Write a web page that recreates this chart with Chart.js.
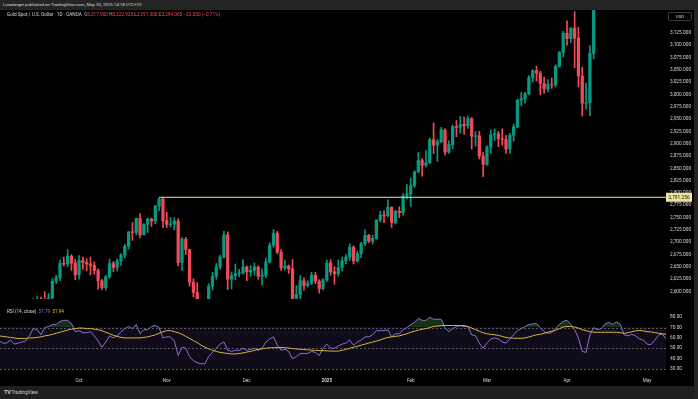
<!DOCTYPE html>
<html><head><meta charset="utf-8">
<script src="https://cdn.jsdelivr.net/npm/chart.js@4.4.1/dist/chart.umd.min.js"></script>
<style>
html,body{margin:0;padding:0;background:#000;width:698px;height:399px;overflow:hidden;font-family:Roboto,"Noto Sans",sans-serif;}
canvas{position:absolute;left:0;}
#pc{top:0;}
#rc{top:306px;}
#hdr{position:absolute;left:0;top:0;width:698px;height:10px;background:#242424;color:#d8d8d8;font-size:4.4px;line-height:10px;padding-left:3px;box-sizing:border-box;white-space:nowrap;}
#leg{position:absolute;left:7px;top:12px;font-size:4.7px;color:#d8d8d8;white-space:nowrap;}
#leg .r{color:#f04b5a;} #leg .g{color:#bbb;}
#rsil{position:absolute;left:7px;top:309px;font-size:4.6px;color:#d8d8d8;white-space:nowrap;}
#usd{position:absolute;left:668px;top:12px;width:24px;height:9px;border:1px solid #3a3a3a;border-radius:2px;box-sizing:border-box;color:#ddd;font-size:4.4px;line-height:7px;text-align:center;}
#ftr{position:absolute;left:0;top:386px;width:698px;height:13px;background:#1f1f1f;color:#cfcfcf;font-size:4.8px;line-height:13px;padding-left:4px;box-sizing:border-box;white-space:nowrap;}
#ftr b{font-size:5.5px;letter-spacing:-0.3px;}
#rstrip{position:absolute;left:694px;top:0;width:4px;height:399px;background:#242424;}
</style></head><body>
<canvas id="pc" width="698" height="306"></canvas>
<canvas id="rc" width="698" height="80"></canvas>
<div id="hdr">Lucatarget published on TradingView.com, May 30, 2025 14:18 UTC+10</div>
<div id="leg">Gold Spot / U.S. Dollar · 1D · OANDA &nbsp;<span class="g">O</span><span class="r">3,317.900</span> <span class="g">H</span><span class="r">3,322.925</span> <span class="g">L</span><span class="r">3,291.300</span> <span class="g">C</span><span class="r">3,294.065</span> <span class="r">−23.550 (−0.71%)</span></div>
<div id="rsil">RSI (14, close) &nbsp;<span style="color:#8f74d6">51.79</span> &nbsp;<span style="color:#e0bd3a">51.94</span></div>
<div id="usd">USD</div>
<div id="ftr"><b>TV</b> TradingView</div>
<div id="rstrip"></div>
<script>
const dates = [
'2024-09-02','2024-09-03','2024-09-04','2024-09-05','2024-09-06','2024-09-09','2024-09-10','2024-09-11','2024-09-12','2024-09-13','2024-09-16','2024-09-17','2024-09-18','2024-09-19','2024-09-20','2024-09-23','2024-09-24','2024-09-25','2024-09-26','2024-09-27','2024-09-30',
'2024-10-01','2024-10-02','2024-10-03','2024-10-04','2024-10-07','2024-10-08','2024-10-09','2024-10-10','2024-10-11','2024-10-14','2024-10-15','2024-10-16','2024-10-17','2024-10-18','2024-10-21','2024-10-22','2024-10-23','2024-10-24','2024-10-25','2024-10-28','2024-10-29','2024-10-30','2024-10-31',
'2024-11-01','2024-11-04','2024-11-05','2024-11-06','2024-11-07','2024-11-08','2024-11-11','2024-11-12','2024-11-13','2024-11-14','2024-11-15','2024-11-18','2024-11-19','2024-11-20','2024-11-21','2024-11-22','2024-11-25','2024-11-26','2024-11-27','2024-11-28','2024-11-29',
'2024-12-02','2024-12-03','2024-12-04','2024-12-05','2024-12-06','2024-12-09','2024-12-10','2024-12-11','2024-12-12','2024-12-13','2024-12-16','2024-12-17','2024-12-18','2024-12-19','2024-12-20','2024-12-23','2024-12-24','2024-12-26','2024-12-27','2024-12-30','2024-12-31',
'2025-01-02','2025-01-03','2025-01-06','2025-01-07','2025-01-08','2025-01-09','2025-01-10','2025-01-13','2025-01-14','2025-01-15','2025-01-16','2025-01-17','2025-01-20','2025-01-21','2025-01-22','2025-01-23','2025-01-24','2025-01-27','2025-01-28','2025-01-29','2025-01-30','2025-01-31',
'2025-02-03','2025-02-04','2025-02-05','2025-02-06','2025-02-07','2025-02-10','2025-02-11','2025-02-12','2025-02-13','2025-02-14','2025-02-17','2025-02-18','2025-02-19','2025-02-20','2025-02-21','2025-02-24','2025-02-25','2025-02-26','2025-02-27','2025-02-28',
'2025-03-03','2025-03-04','2025-03-05','2025-03-06','2025-03-07','2025-03-10','2025-03-11','2025-03-12','2025-03-13','2025-03-14','2025-03-17','2025-03-18','2025-03-19','2025-03-20','2025-03-21','2025-03-24','2025-03-25','2025-03-26','2025-03-27','2025-03-28','2025-03-31',
'2025-04-01','2025-04-02','2025-04-03','2025-04-04','2025-04-07','2025-04-08','2025-04-09','2025-04-10','2025-04-11','2025-04-14','2025-04-15','2025-04-16','2025-04-17','2025-04-21','2025-04-22','2025-04-23','2025-04-24','2025-04-25','2025-04-28','2025-04-29','2025-04-30',
'2025-05-01','2025-05-02','2025-05-05','2025-05-06','2025-05-07','2025-05-08'];

const openP = [2503,2499,2493,2495,2516,2497,2506,2516,2512,2558,2578,2582,2569,2559,2587,2621,2628,2657,2656,2672,2658,
2634,2663,2659,2656,2653,2643,2622,2608,2630,2657,2649,2662,2674,2692,2721,2720,2748,2715,2736,2747,2743,2774,2788,
2744,2736,2737,2743,2659,2706,2685,2619,2598,2572,2565,2563,2611,2631,2650,2670,2715,2625,2632,2636,2638,
2650,2640,2643,2650,2631,2633,2660,2694,2718,2680,2648,2652,2646,2586,2594,2622,2612,2617,2633,2621,2606,
2624,2658,2640,2636,2649,2662,2670,2690,2662,2677,2697,2714,2702,2708,2745,2755,2754,2771,2740,2763,2760,2794,
2798,2815,2843,2866,2856,2861,2908,2897,2904,2928,2883,2898,2935,2933,2939,2936,2951,2915,2916,2875,
2858,2893,2918,2920,2910,2909,2889,2917,2934,2988,2991,3001,3034,3048,3043,3022,3011,3020,3019,3057,3085,
3124,3113,3134,3114,3037,2982,2983,3083,3175,3237,3210,3230,3343,3327,3424,3381,3288,3349,3319,3344,3317,
3288,3239,3240,3334,3431,3366];
const highP = [2506,2504,2503,2523,2529,2507,2518,2529,2560,2586,2590,2589,2600,2596,2626,2633,2664,2670,2685,2675,2665,
2673,2670,2667,2670,2660,2646,2625,2633,2666,2661,2666,2677,2696,2722,2740,2749,2758,2738,2749,2749,2774,2790,2790,
2761,2750,2750,2748,2710,2710,2686,2626,2618,2574,2578,2616,2639,2657,2674,2722,2721,2640,2656,2645,2665,
2652,2653,2658,2652,2646,2668,2699,2726,2722,2685,2664,2654,2665,2612,2632,2628,2622,2639,2639,2624,2626,
2664,2665,2651,2664,2670,2675,2697,2693,2682,2700,2725,2716,2714,2746,2763,2764,2786,2772,2765,2772,2799,2817,
2830,2845,2882,2870,2886,2911,2942,2909,2933,2930,2906,2938,2947,2955,2954,2956,2953,2925,2925,2882,
2896,2928,2930,2925,2930,2917,2921,2940,2990,3004,3004,3038,3050,3057,3047,3035,3030,3033,3060,3087,3128,
3149,3136,3168,3136,3055,3023,3099,3176,3245,3245,3232,3357,3357,3430,3500,3386,3367,3371,3352,3353,3328,
3293,3269,3336,3437,3434,3414];
const lowP = [2490,2472,2484,2489,2485,2491,2500,2500,2507,2552,2571,2565,2546,2554,2585,2616,2622,2652,2651,2643,2624,
2625,2645,2642,2634,2635,2605,2604,2603,2627,2640,2642,2653,2668,2686,2704,2715,2709,2715,2720,2732,2737,2764,2730,
2730,2731,2725,2652,2643,2675,2611,2589,2570,2536,2554,2560,2603,2625,2645,2668,2604,2605,2624,2630,2636,
2622,2631,2633,2625,2613,2628,2658,2690,2677,2643,2644,2637,2582,2583,2584,2603,2609,2614,2616,2597,2603,
2620,2633,2615,2631,2642,2656,2663,2656,2660,2669,2693,2699,2696,2706,2741,2740,2752,2730,2737,2750,2755,2788,
2773,2811,2841,2834,2853,2860,2880,2864,2902,2877,2880,2890,2914,2921,2919,2931,2889,2895,2869,2833,
2856,2880,2906,2894,2897,2880,2880,2905,2932,2977,2982,2999,3025,3027,2999,3002,3005,3012,3015,3055,3076,
3100,3105,3054,3015,2956,2970,2957,3072,3174,3193,3206,3229,3283,3325,3366,3260,3287,3268,3260,3300,3268,
3202,3222,3240,3322,3365,3300];
const closeP = [2499,2493,2495,2516,2497,2506,2516,2512,2558,2578,2582,2569,2559,2587,2621,2628,2657,2656,2672,2658,2634,
2663,2659,2656,2653,2643,2622,2608,2630,2657,2649,2662,2674,2692,2721,2720,2748,2715,2736,2747,2743,2774,2788,2744,
2736,2737,2743,2659,2706,2685,2619,2598,2572,2565,2563,2611,2631,2650,2670,2715,2625,2632,2636,2638,2650,
2640,2643,2650,2631,2633,2660,2694,2718,2680,2648,2652,2646,2586,2594,2622,2612,2617,2633,2621,2606,2624,
2658,2640,2636,2649,2662,2670,2690,2662,2677,2697,2714,2702,2708,2745,2755,2754,2771,2740,2763,2760,2794,2798,
2815,2843,2866,2856,2861,2908,2897,2904,2928,2883,2898,2935,2933,2939,2936,2951,2915,2916,2875,2858,
2893,2918,2920,2910,2909,2889,2917,2934,2988,2991,3001,3034,3048,3043,3022,3011,3020,3019,3057,3085,3124,
3113,3134,3114,3037,2982,2983,3083,3175,3237,3210,3230,3343,3327,3424,3381,3288,3349,3319,3344,3317,3288,
3239,3240,3334,3431,3366,3306];

const rsiValues = [57,55,55,58,54,55,56,57,62,69,68,63,70,71,73,73,76,77,77,74,66,
67,65,65,66,62,57,51,56,62,60,62,66,69,71,69,73,64,68,68,71,72,70,60,
61,61,57,43,51,50,42,38,36,35,35,42,46,50,54,56,48,47,48,48,50,
48,49,50,48,50,56,59,61,53,48,49,47,40,42,45,45,45,47,46,43,50,
54,50,50,52,54,55,58,53,56,58,61,61,63,67,67,67,68,61,64,64,68,70,
73,75,79,77,77,80,78,78,78,70,66,69,71,72,71,71,63,62,55,50,
55,59,60,59,56,55,59,63,67,69,71,73,73.5,74,70,66,64.5,65,69,73,76,
77,73,68,60,47,46,63,70,68,69,73.5,75,73,75.5,73,63,62,63.5,62,59,58,
54,53.5,57.7,62.5,64,59];
const rsiMA = [62,61.5,61,60.5,60,59.5,59.5,59.5,60,60,60.5,61,62,62.5,63.5,64.5,65.5,66.5,67.5,68.5,69,
69.5,69.5,69,69,68.5,68,67,65.5,64,62.5,61.5,60.5,60,60,60,60,60,60.5,61,62,63,64.5,66,
67,67,66,65,63.5,61.5,59.5,57.5,55.5,53,51,49.5,48,47,46,45.5,45,44.5,44.5,45,45.5,
46.3,47,48,49,49.5,50,50.5,50.6,50.8,50.8,50.6,50.2,49.8,49.3,49,48.8,48.5,48.3,48,47.8,47.7,
47.5,47.3,47.2,47.3,48,49,50,51,52,53,54,55,56,57,58,59.5,60.5,61,61.5,62,63,64,
65.5,66.5,67.5,68.5,69,70,71,71.5,72,72,72,72,72,72,72,71,69.5,68,66.5,65,
64,63.5,63,62.5,61.5,60.5,60,59.7,59.7,59.7,60,61,62,63,63.5,64.5,65.5,66.5,67.5,69,70.5,
71,71,70.5,69.5,68,67,66,65.5,65.5,65.5,65.5,65.5,65.5,65.5,65,64.5,65,66,66.8,67.2,66.8,
66.2,65.8,65.2,64.6,64,63.5];

const priceTicks = [2600,2625,2650,2675,2700,2725,2750,2775,2800,2825,2850,2875,2900,2925,2950,2975,3000,3025,3050,3075,3100,3125];
const rsiTicks = [30,40,50,60,70,80];
const monthLabels = ['Oct','Nov','Dec','2025','Feb','Mar','Apr','May'];
const levelPrice = 2791.256;
const levelStart = '2024-10-30';

const UP = '#089981', DOWN = '#f04b5a';
const FONT = 'Roboto, "Noto Sans", sans-serif';
const X_MIN = 0.262, X_MAX = 174.97;
const fmtP = v => Number(v).toLocaleString('en-US',{minimumFractionDigits:3,maximumFractionDigits:3});

const monthPos = [];
for (let i = 1; i < dates.length; i++) if (dates[i].slice(0,7) !== dates[i-1].slice(0,7)) monthPos.push(i);

const candleColors = dates.map((d,i) => closeP[i] >= openP[i] ? UP : DOWN);
const levelIdx = dates.indexOf(levelStart);

const levelLabel = {
  id:'levelLabel',
  afterDraw(chart){
    const ctx = chart.ctx, y = chart.scales.y.getPixelForValue(levelPrice), x = chart.chartArea.right;
    ctx.save();
    ctx.fillStyle = '#efe3a0';
    ctx.fillRect(x, y - 4.5, 26, 9);
    ctx.fillStyle = '#111';
    ctx.font = '4.8px ' + FONT;
    ctx.textBaseline = 'middle';
    ctx.fillText(fmtP(levelPrice), x + 2.5, y + 0.3);
    ctx.restore();
  }
};

new Chart(document.getElementById('pc'), {
  type:'bar',
  data:{datasets:[
    {type:'line', data:[{x:levelIdx,y:levelPrice},{x:dates.length,y:levelPrice}], borderColor:'#efe3a0', borderWidth:1, pointRadius:0, order:0, clip:0},
    {data:dates.map((d,i)=>({x:i,y:[openP[i],closeP[i]]})), backgroundColor:candleColors, barThickness:2.6, grouped:false, order:1, clip:0},
    {data:dates.map((d,i)=>({x:i,y:[lowP[i],highP[i]]})), backgroundColor:candleColors, barThickness:1, grouped:false, order:2, clip:0}
  ]},
  options:{
    responsive:false, animation:false, events:[],
    layout:{padding:{top:10,left:0,right:0,bottom:0}},
    plugins:{legend:{display:false}, tooltip:{enabled:false}},
    scales:{
      x:{type:'linear', min:X_MIN, max:X_MAX, display:false, offset:false},
      y:{position:'right', min:2584.7, max:3171.1,
         afterFit:s=>{s.width=32;},
         afterBuildTicks:s=>{s.ticks = priceTicks.map(v=>({value:v}));},
         grid:{display:false, drawTicks:false}, border:{display:false},
         ticks:{color:'#d4d4d4', font:{size:4.8, family:FONT}, padding:4, autoSkip:false, callback:v=>fmtP(v)}}
    }
  },
  plugins:[levelLabel]
});

const rsiBand = {
  id:'rsiBand',
  beforeDatasetsDraw(chart){
    const ctx = chart.ctx, a = chart.chartArea, y = chart.scales.y;
    ctx.save();
    ctx.fillStyle = 'rgba(126,87,194,0.13)';
    const y70 = y.getPixelForValue(70), y30 = y.getPixelForValue(30);
    ctx.fillRect(a.left, y70, a.right - a.left, y30 - y70);
    ctx.strokeStyle = 'rgba(150,150,160,0.55)';
    ctx.lineWidth = 1;
    ctx.setLineDash([2,2]);
    [70,50,30].forEach(v => {
      const p = Math.round(y.getPixelForValue(v)) + 0.5;
      ctx.beginPath(); ctx.moveTo(a.left, p); ctx.lineTo(a.right, p); ctx.stroke();
    });
    ctx.restore();
  }
};

new Chart(document.getElementById('rc'), {
  type:'line',
  data:{datasets:[
    {data:dates.map((d,i)=>({x:i,y:rsiMA[i]})), borderColor:'#d9b43e', borderWidth:1, pointRadius:0, fill:false, order:0, clip:0},
    {data:dates.map((d,i)=>({x:i,y:rsiValues[i]})), borderColor:'#8a70d2', borderWidth:1, pointRadius:0, clip:0,
     fill:{target:{value:70}, above:'rgba(76,175,80,0.28)', below:'rgba(0,0,0,0)'}, order:1}
  ]},
  options:{
    responsive:false, animation:false, events:[],
    layout:{padding:0},
    plugins:{legend:{display:false}, tooltip:{enabled:false}},
    scales:{
      x:{type:'linear', min:X_MIN, max:X_MAX, offset:false,
         afterFit:s=>{s.height=11;},
         afterBuildTicks:s=>{s.ticks = monthPos.map(v=>({value:v}));},
         grid:{display:false, drawTicks:false}, border:{display:false},
         ticks:{color:'#d4d4d4', autoSkip:false, maxRotation:0, padding:3,
                font:c=>({size:4.6, family:FONT, weight:(c.tick && monthLabels[monthPos.indexOf(c.tick.value)]==='2025')?'bold':'normal'}),
                callback:v=>monthLabels[monthPos.indexOf(v)] || ''}},
      y:{position:'right', min:24.2, max:84.2,
         afterFit:s=>{s.width=32;},
         afterBuildTicks:s=>{s.ticks = rsiTicks.map(v=>({value:v}));},
         grid:{display:false, drawTicks:false}, border:{display:false},
         ticks:{color:'#d4d4d4', font:{size:4.8, family:FONT}, padding:4, autoSkip:false, callback:v=>Number(v).toFixed(2)}}
    }
  },
  plugins:[rsiBand]
});
</script>
</body></html>
